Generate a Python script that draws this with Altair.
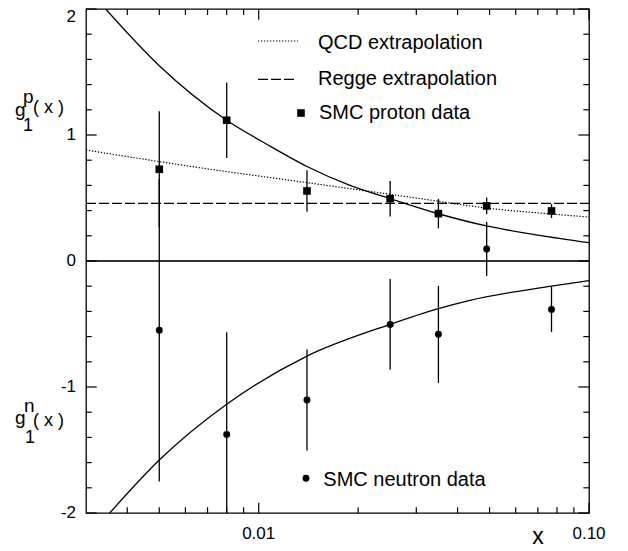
import altair as alt
import pandas as pd

# ---------------- data ----------------
x_data = [0.005, 0.008, 0.014, 0.025, 0.035, 0.049, 0.077]
g1p = [0.728, 1.117, 0.556, 0.494, 0.376, 0.437, 0.397]
g1p_err = [0.46, 0.30, 0.165, 0.14, 0.117, 0.066, 0.056]
g1n = [-0.55, -1.376, -1.103, -0.503, -0.582, 0.095, -0.384]
g1n_err = [1.20, 0.81, 0.40, 0.36, 0.385, 0.215, 0.18]

# fitted curves (solid)
xp_curve = [0.00344, 0.005, 0.008, 0.0106, 0.014, 0.0189, 0.025, 0.035, 0.049, 0.07, 0.1]
yp_curve = [2.0, 1.55, 1.117, 0.925, 0.75, 0.60, 0.495, 0.375, 0.278, 0.205, 0.145]
xn_curve = [0.00354, 0.005, 0.008, 0.014, 0.025, 0.035, 0.0436, 0.077, 0.1]
yn_curve = [-2.0, -1.58, -1.137, -0.755, -0.503, -0.378, -0.312, -0.20, -0.155]

# QCD extrapolation (dotted)
x_qcd = [0.003, 0.0066, 0.014, 0.0307, 0.049, 0.078, 0.1]
y_qcd = [0.881, 0.741, 0.622, 0.496, 0.42, 0.372, 0.349]

# Regge extrapolation (dashed)
x_regge = [0.003, 0.1]
y_regge = [0.458, 0.458]

# axis ticks / labels
y_major = [-2, -1, 0, 1, 2]
y_major_labels = ["-2", "-1", "0", "1", "2"]
y_minor = [-1.8, -1.6, -1.4, -1.2, -0.8, -0.6, -0.4, -0.2,
           0.2, 0.4, 0.6, 0.8, 1.2, 1.4, 1.6, 1.8]
x_major = [0.01, 0.1]
x_major_labels = ["0.01", "0.10"]
x_minor = [0.004, 0.005, 0.006, 0.007, 0.008, 0.009,
           0.02, 0.03, 0.04, 0.05, 0.06, 0.07, 0.08, 0.09]

legend_labels = ["QCD extrapolation", "Regge extrapolation", "SMC proton data", "SMC neutron data"]

# ---------------- chart ----------------
W, H = 503, 504
FONT = "Liberation Sans"
xs = alt.Scale(type="log", domain=[0.003, 0.1], nice=False)
ys = alt.Scale(domain=[-2, 2], nice=False, zero=False)


def X(f):
    return alt.X(f, type="quantitative", scale=xs, axis=None)


def Y(f):
    return alt.Y(f, type="quantitative", scale=ys, axis=None)


one = pd.DataFrame({"a": [0]})

df_p = pd.DataFrame({"x": x_data, "y": g1p,
                     "lo": [v - e for v, e in zip(g1p, g1p_err)],
                     "hi": [v + e for v, e in zip(g1p, g1p_err)]})
df_n = pd.DataFrame({"x": x_data, "y": g1n,
                     "lo": [v - e for v, e in zip(g1n, g1n_err)],
                     "hi": [v + e for v, e in zip(g1n, g1n_err)]})
df_pc = pd.DataFrame({"x": xp_curve, "y": yp_curve})
df_nc = pd.DataFrame({"x": xn_curve, "y": yn_curve})
df_q = pd.DataFrame({"x": x_qcd, "y": y_qcd})
df_r = pd.DataFrame({"x": x_regge, "y": y_regge})
df_ymaj = pd.DataFrame({"v": y_major, "t": y_major_labels})
df_ymin = pd.DataFrame({"v": y_minor})
df_xmaj = pd.DataFrame({"v": x_major, "t": x_major_labels})
df_xmin = pd.DataFrame({"v": x_minor})

LW = 1.3
TW = 1.2
layers = []

# zero line
layers.append(alt.Chart(pd.DataFrame({"v": [0]})).mark_rule(color="#333333", strokeWidth=2).encode(
    y=Y("v"), x=alt.value(0), x2=alt.value(W)))

# ticks (inward) on all four sides
layers.append(alt.Chart(df_ymaj).mark_rule(color="black", strokeWidth=TW).encode(
    y=Y("v"), x=alt.value(0), x2=alt.value(10.7)))
layers.append(alt.Chart(df_ymaj).mark_rule(color="black", strokeWidth=TW).encode(
    y=Y("v"), x=alt.value(W), x2=alt.value(W - 10.7)))
layers.append(alt.Chart(df_ymin).mark_rule(color="black", strokeWidth=TW).encode(
    y=Y("v"), x=alt.value(0), x2=alt.value(5.7)))
layers.append(alt.Chart(df_ymin).mark_rule(color="black", strokeWidth=TW).encode(
    y=Y("v"), x=alt.value(W), x2=alt.value(W - 5.7)))
layers.append(alt.Chart(df_xmaj).mark_rule(color="black", strokeWidth=TW).encode(
    x=X("v"), y=alt.value(0), y2=alt.value(10.7)))
layers.append(alt.Chart(df_xmaj).mark_rule(color="black", strokeWidth=TW).encode(
    x=X("v"), y=alt.value(H), y2=alt.value(H - 10.3)))
layers.append(alt.Chart(df_xmin).mark_rule(color="black", strokeWidth=TW).encode(
    x=X("v"), y=alt.value(0), y2=alt.value(6)))
layers.append(alt.Chart(df_xmin).mark_rule(color="black", strokeWidth=TW).encode(
    x=X("v"), y=alt.value(H), y2=alt.value(H - 5.7)))

# tick labels (the top "2" nudged down so it is not cut at the page edge)
layers.append(alt.Chart(df_ymaj).transform_filter("datum.v < 2").mark_text(
    font=FONT, fontSize=17, align="right", baseline="middle", color="black").encode(
    y=Y("v"), x=alt.value(-10), text="t:N"))
layers.append(alt.Chart(df_ymaj).transform_filter("datum.v >= 2").mark_text(
    font=FONT, fontSize=17, align="right", baseline="middle", color="black", dy=8).encode(
    y=Y("v"), x=alt.value(-10), text="t:N"))
layers.append(alt.Chart(df_xmaj).mark_text(font=FONT, fontSize=17, align="center", baseline="middle",
                                           color="black").encode(
    x=X("v"), y=alt.value(525), text="t:N"))

# x title
layers.append(alt.Chart(one).mark_text(font=FONT, fontSize=23, align="center", baseline="alphabetic",
                                       color="black").encode(
    x=alt.value(452), y=alt.value(535), text=alt.value("x")))


# y titles  g_1^p(x) and g_1^n(x)
def txt(s, x, y, size):
    return alt.Chart(one).mark_text(font=FONT, fontSize=size, align="left", baseline="alphabetic",
                                    color="black").encode(x=alt.value(x), y=alt.value(y), text=alt.value(s))


layers += [
    txt("g", -71, 107, 19), txt("p", -63, 93.7, 19), txt("( x )", -53, 104, 18), txt("1", -63, 121.7, 18),
    txt("g", -71, 414.5, 19), txt("n", -62, 402.7, 19), txt("( x )", -53, 417, 18), txt("1", -61, 434.3, 18),
]

# curves
layers.append(alt.Chart(df_pc).mark_line(color="black", strokeWidth=LW, clip=True, interpolate="monotone").encode(
    x=X("x"), y=Y("y")))
layers.append(alt.Chart(df_nc).mark_line(color="black", strokeWidth=LW, clip=True, interpolate="monotone").encode(
    x=X("x"), y=Y("y")))
layers.append(alt.Chart(df_q).mark_line(color="black", strokeWidth=1.2, strokeDash=[1.3, 1.7], clip=True,
                                        interpolate="monotone").encode(x=X("x"), y=Y("y")))
layers.append(alt.Chart(df_r).mark_line(color="black", strokeWidth=1.2, strokeDash=[10, 3], clip=True).encode(
    x=X("x"), y=Y("y")))

# error bars
layers.append(alt.Chart(df_p).mark_rule(color="black", strokeWidth=LW, clip=True).encode(
    x=X("x"), y=Y("lo"), y2=alt.Y2("hi")))
layers.append(alt.Chart(df_n).mark_rule(color="black", strokeWidth=LW, clip=True).encode(
    x=X("x"), y=Y("lo"), y2=alt.Y2("hi")))

# points
layers.append(alt.Chart(df_p).mark_square(color="black", size=58, opacity=1).encode(x=X("x"), y=Y("y")))
layers.append(alt.Chart(df_n).mark_circle(color="black", size=48, opacity=1).encode(x=X("x"), y=Y("y")))

# legend
layers.append(alt.Chart(one).mark_rule(color="black", strokeWidth=1.2, strokeDash=[1.3, 1.7]).encode(
    x=alt.value(172), x2=alt.value(212), y=alt.value(32)))
layers.append(alt.Chart(one).mark_rule(color="black", strokeWidth=1.2, strokeDash=[10, 3]).encode(
    x=alt.value(172), x2=alt.value(211), y=alt.value(70.3)))
layers.append(alt.Chart(one).mark_square(color="black", size=58, opacity=1).encode(
    x=alt.value(215), y=alt.value(104)))
layers.append(alt.Chart(one).mark_circle(color="black", size=48, opacity=1).encode(
    x=alt.value(220), y=alt.value(469.3)))
leg_pos = [(232, 40.3), (232, 76), (233, 110.3), (237.3, 476.7)]
for lab, (lx, ly) in zip(legend_labels, leg_pos):
    layers.append(alt.Chart(one).mark_text(font=FONT, fontSize=20, align="left", baseline="alphabetic",
                                           color="black").encode(
        x=alt.value(lx), y=alt.value(ly), text=alt.value(lab)))

chart = alt.layer(*layers).properties(
    width=W, height=H,
    autosize=alt.AutoSizeParams(type="none"),
    padding={"left": 78, "top": 1, "right": 25, "bottom": 36},
    background="white",
).configure_view(stroke="black", strokeWidth=1.3)

chart.save("out.html", embed_options={"renderer": "svg", "actions": False})
